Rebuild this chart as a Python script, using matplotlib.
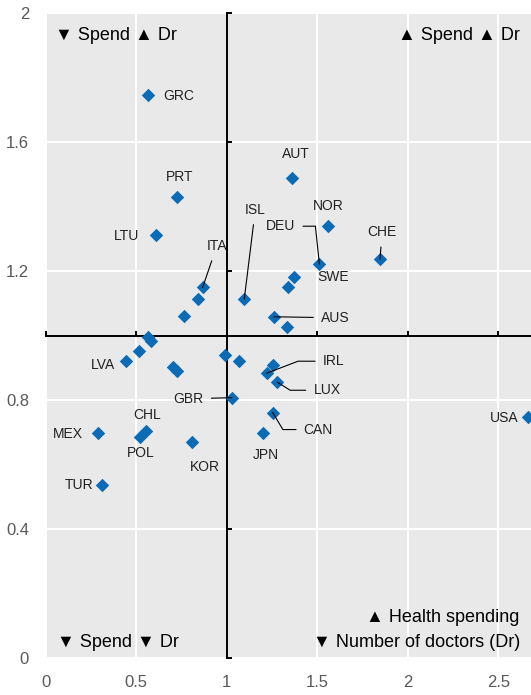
import matplotlib
matplotlib.use('Agg')
import matplotlib.pyplot as plt
from matplotlib.ticker import FixedLocator, FuncFormatter

# health spending ratio (x) vs number of doctors ratio (y)
countries = ['GRC', 'PRT', 'LTU', 'ITA', '', '', 'ISL', 'AUT', 'NOR', 'CHE', 'DEU', 'SWE',
             '', 'AUS', '', '', '', '', 'LVA', '', '', '', '', '', 'IRL', 'LUX', 'GBR',
             'CAN', 'JPN', 'MEX', 'CHL', 'POL', 'KOR', 'TUR', 'USA']
spend = [0.565, 0.724, 0.609, 0.867, 0.840, 0.766, 1.097, 1.361, 1.558, 1.847, 1.512, 1.373,
         1.337, 1.261, 1.335, 0.567, 0.580, 0.517, 0.444, 0.702, 0.724, 0.991, 1.070, 1.254,
         1.221, 1.280, 1.028, 1.254, 1.202, 0.287, 0.554, 0.521, 0.807, 0.309, 2.666]
doctors = [1.746, 1.431, 1.313, 1.150, 1.114, 1.062, 1.114, 1.490, 1.340, 1.237, 1.222, 1.183,
           1.150, 1.059, 1.028, 0.997, 0.985, 0.954, 0.923, 0.902, 0.892, 0.940, 0.923, 0.911,
           0.884, 0.856, 0.808, 0.762, 0.698, 0.700, 0.706, 0.687, 0.672, 0.537, 0.749]

x_ticks = [0, 0.5, 1, 1.5, 2, 2.5]
y_ticks = [0, 0.4, 0.8, 1.2, 1.6, 2]

# label placement: offset in pixels from the marker, horizontal alignment
label_pos = {
    'GRC': (15, -1, 'left'), 'PRT': (3, 20, 'center'), 'LTU': (-17, -1, 'right'),
    'ITA': (14, 41, 'center'), 'ISL': (11, 89, 'center'), 'AUT': (4, 24, 'center'),
    'NOR': (1, 20, 'center'), 'DEU': (-24, 38, 'right'), 'SWE': (23, 0, 'left'),
    'CHE': (2, 27, 'center'), 'AUS': (47, -1, 'left'), 'LVA': (-11, -4, 'right'),
    'IRL': (56, 12, 'left'), 'LUX': (36, -8, 'left'), 'GBR': (-28, -1, 'right'),
    'CAN': (31, -17, 'left'), 'JPN': (3, -22, 'center'), 'CHL': (1, 16, 'center'),
    'POL': (1, -16, 'center'), 'MEX': (-15, -1, 'right'), 'KOR': (13, -25, 'center'),
    'TUR': (-8, 0, 'right'), 'USA': (-10, -1, 'right'),
}
leaders = {
    'ITA': 'arc3', 'ISL': 'arc3', 'CHE': 'arc3', 'AUS': 'arc3', 'GBR': 'arc3',
    'DEU': 'angle,angleA=0,angleB=96,rad=0',
    'IRL': 'angle,angleA=0,angleB=21,rad=0',
    'LUX': 'angle,angleA=0,angleB=-32,rad=0',
    'CAN': 'angle,angleA=0,angleB=-59,rad=0',
}

blue = '#0B6BB5'
sans = ['Liberation Sans', 'DejaVu Sans']

fig = plt.figure(figsize=(5.31, 6.95), dpi=100)
pos = [45.7 / 531, 36.7 / 695, 485.3 / 531, 645 / 695]
ax = fig.add_axes(pos)
ax.set_facecolor('#E9E9E9')
ax.set_xlim(0, 2.681)
ax.set_ylim(0, 2)
ax.xaxis.set_major_locator(FixedLocator(x_ticks))
ax.yaxis.set_major_locator(FixedLocator(y_ticks))
fmt = FuncFormatter(lambda v, p: '{:g}'.format(v))
ax.xaxis.set_major_formatter(fmt)
ax.yaxis.set_major_formatter(fmt)
ax.grid(color='white', lw=1.5)
ax.set_axisbelow(True)
for s in ax.spines.values():
    s.set_visible(False)
ax.tick_params(length=0, labelsize=12, labelcolor='#595959', pad=12)
for lab in ax.get_xticklabels() + ax.get_yticklabels():
    lab.set_family(sans)

# overlay axes: crossing axis lines at 1 / 1
ax2 = fig.add_axes(pos, sharex=ax, sharey=ax)
ax2.patch.set_visible(False)
ax2.spines['top'].set_visible(False)
ax2.spines['right'].set_visible(False)
ax2.spines['left'].set_position(('data', 1))
ax2.spines['bottom'].set_position(('data', 1))
for s in ['left', 'bottom']:
    ax2.spines[s].set_linewidth(1.4)
    ax2.spines[s].set_zorder(2)
ax2.tick_params(direction='in', length=3.6, width=1.4, labelleft=False, labelbottom=False)

ax2.scatter(spend, doctors, marker='D', s=47, color=blue, linewidths=0, zorder=3)

for name, x, y in zip(countries, spend, doctors):
    if not name:
        continue
    dx, dy, ha = label_pos[name]
    arrow = None
    if name in leaders:
        arrow = dict(arrowstyle='-', color='black', lw=0.8, shrinkA=3.5, shrinkB=0,
                     connectionstyle=leaders[name])
    ax2.annotate(name, (x, y), xytext=(dx, dy), textcoords='offset pixels',
                 ha=ha, va='center', fontsize=10, family=sans, color='#222222',
                 arrowprops=arrow, zorder=4)

corner = dict(fontsize=13, family=sans, color='black', va='center',
              transform=ax2.transAxes)
ax2.text(0.019, 0.966, '▼ Spend ▲ Dr', ha='left', **corner)
ax2.text(0.977, 0.966, '▲ Spend ▲ Dr', ha='right', **corner)
ax2.text(0.023, 0.024, '▼ Spend ▼ Dr', ha='left', **corner)
ax2.text(0.977, 0.0625, '▲ Health spending', ha='right', **corner)
ax2.text(0.977, 0.024, '▼ Number of doctors (Dr)', ha='right', **corner)

fig.savefig('out.png', dpi=100)
